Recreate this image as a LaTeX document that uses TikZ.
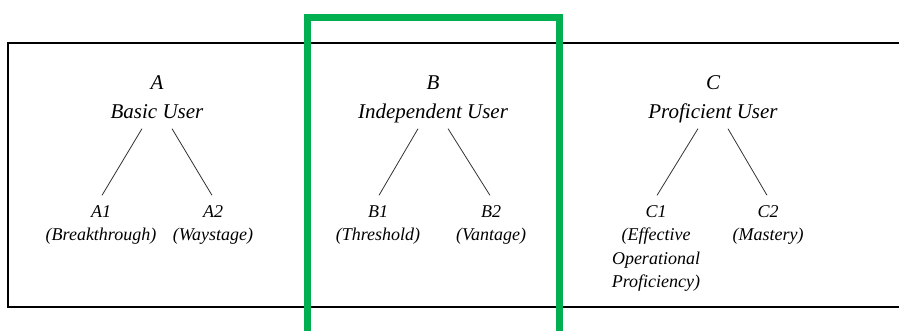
\documentclass[tikz,border=0pt]{standalone}
\usepackage{fontspec}
\setmainfont{Liberation Serif}
\usepackage{tikz}
\usetikzlibrary{positioning}
\usetikzlibrary{calc}

\definecolor{boxgreen}{RGB}{0,176,80}

\begin{document}
\begin{tikzpicture}[x=1pt,y=-1pt,
	lvnode/.style={align=center, inner xsep=2pt, inner ysep=0pt, anchor=south, font=\fontsize{21}{29}\selectfont\itshape},
	subnode/.style={align=center, inner xsep=2pt, inner ysep=8pt, anchor=north, font=\fontsize{18}{23.5}\selectfont\itshape},
	link/.style={draw=black!80, line width=0.8pt, shorten <=2pt, shorten >=2pt}]
	\useasboundingbox (0,0) rectangle (899,330);
	% outer frame, open on the right
	\draw[line width=1.6pt] (899,43) -- (8,43) -- (8,307) -- (899,307);
	\node[lvnode] (lvA) at (157,127) {A\\Basic User\strut};
	\node[lvnode] (lvB) at (433,127) {B\\Independent User\strut};
	\node[lvnode] (lvC) at (713,127) {C\\Proficient User\strut};
	\node[subnode] (a1) [below=70pt of lvA, xshift=-56pt] {A1\\(Breakthrough)};
	\node[subnode] (a2) [below=70pt of lvA, xshift=56pt] {A2\\(Waystage)};
	\node[subnode] (b1) [below=70pt of lvB, xshift=-55pt] {B1\\(Threshold)};
	\node[subnode] (b2) [below=70pt of lvB, xshift=58pt] {B2\\(Vantage)};
	\node[subnode] (c1) [below=70pt of lvC, xshift=-57pt] {C1\\(Effective\\Operational\\Proficiency)};
	\node[subnode] (c2) [below=70pt of lvC, xshift=55pt] {C2\\(Mastery)};
	\draw[link] ([xshift=-14pt]lvA.south) -- (a1.north);
	\draw[link] ([xshift=14pt]lvA.south) -- (a2.north);
	\draw[link] ([xshift=-14pt]lvB.south) -- (b1.north);
	\draw[link] ([xshift=14pt]lvB.south) -- (b2.north);
	\draw[link] ([xshift=-14pt]lvC.south) -- (c1.north);
	\draw[link] ([xshift=14pt]lvC.south) -- (c2.north);
	% highlight round level B
	\draw[boxgreen, line width=7pt] (307,340) -- (307,17) -- (559,17) -- (559,340);
\end{tikzpicture}
\end{document}
